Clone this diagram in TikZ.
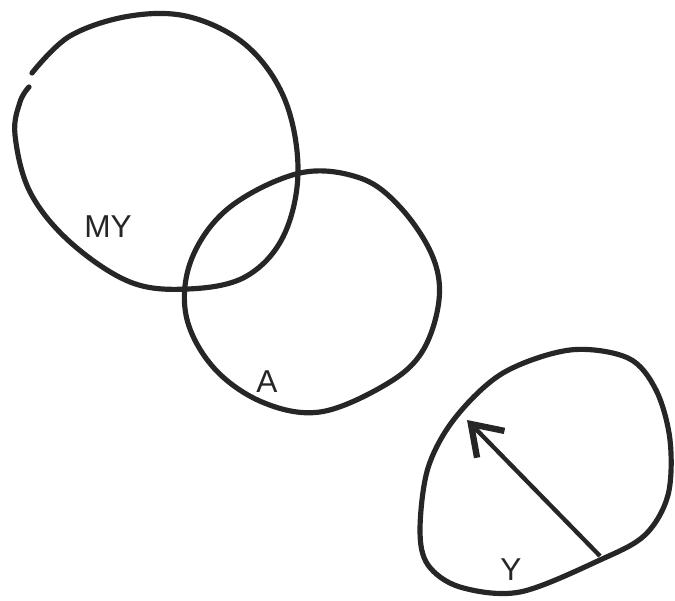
\documentclass[tikz,border=0pt]{standalone}
\usepackage{fontspec}
\setmainfont{Liberation Sans}
\usepackage{tikz}
\usetikzlibrary{arrows.meta}

\begin{document}
\begin{tikzpicture}[x=0.03cm, y=-0.03cm,
  ring/.style={draw=black!85, line width=0.155cm, line cap=round, line join=round},
  lbl/.style={font=\fontsize{27}{27}\selectfont, text=black!85, inner sep=0pt},
  pointer/.style={draw=black!85, line width=0.13cm,
                  -{Straight Barb[length=0.85cm, width=1.15cm, line width=0.19cm]}},
]
\useasboundingbox (0,0) rectangle (675,601);

%% ---- MY: open ring, small gap top left ----
\draw[ring] plot[smooth, tension=0.6] coordinates {
  (32,73) (70,36) (130,16) (190,17) (247,46) (285,100) (298,172)
  (283,237) (245,277) (188,289) (130,282) (70,242) (30,192)
  (15,135) (20,102) (29,87)};
\node[lbl] (my) at (108,227) {MY};

%% ---- A ----
\draw[ring] plot[smooth cycle, tension=0.6] coordinates {
  (300,173) (360,178) (400,207) (432,255) (439,300) (422,352)
  (385,385) (320,412) (262,402) (213,367) (186,315) (192,258)
  (230,207)};
\node[lbl] (a) at (267,382) {A};

%% ---- Y with pointer ----
\draw[ring] plot[smooth cycle, tension=0.55] coordinates {
  (570,350) (628,358) (656,390) (670,440) (668,495) (645,535)
  (600,560) (520,592) (460,587) (428,565) (420,530) (428,468)
  (455,418) (503,373)};
\node[lbl] (y) at (511,570) {Y};
\coordinate (ytail) at (600,556);
\coordinate (yhead) at (467,420);
\draw[pointer] (ytail) -- (yhead);
\end{tikzpicture}
\end{document}
